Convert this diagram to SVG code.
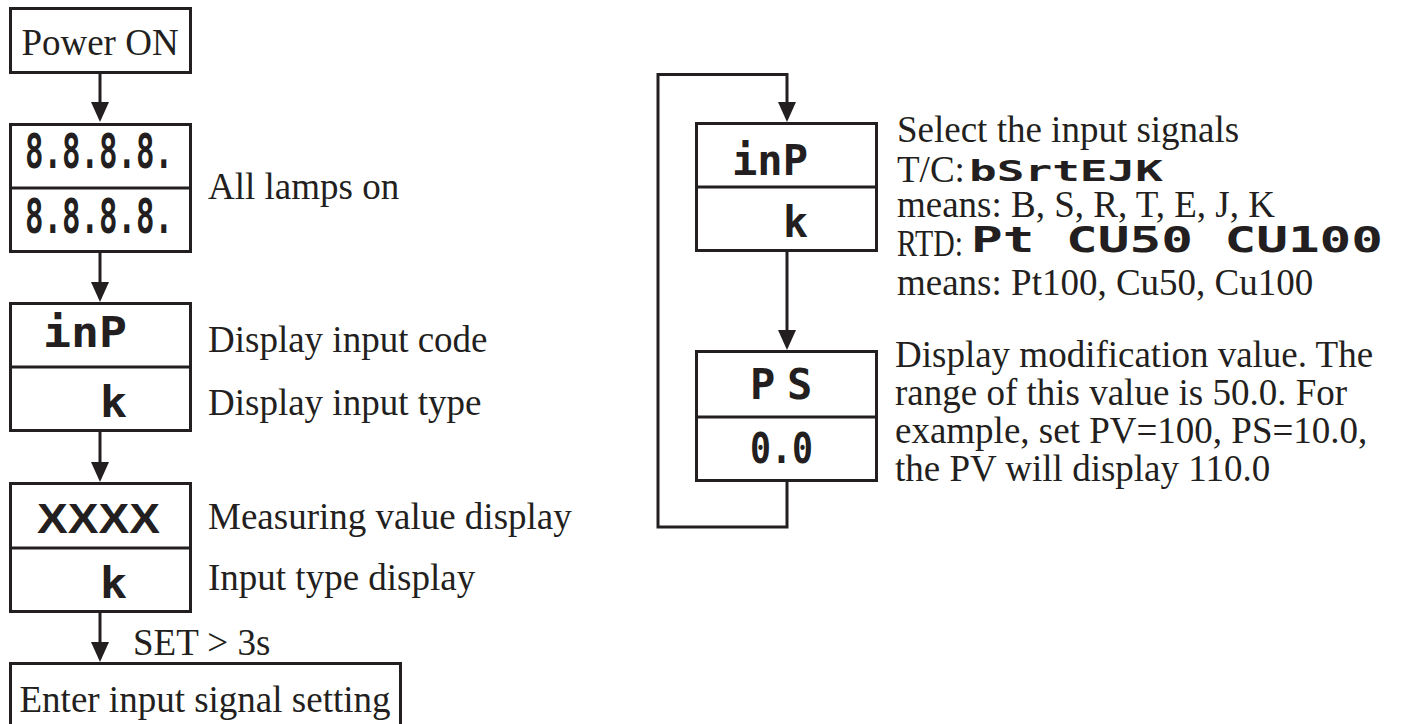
<svg xmlns="http://www.w3.org/2000/svg" width="1411" height="724" viewBox="0 0 1411 724">
<style>
.box{fill:none;stroke:#231f20;stroke-width:3}
.ln{fill:none;stroke:#231f20;stroke-width:3}
.t{font-family:"Liberation Serif","Times New Roman",serif;font-size:37px;fill:#231f20}
.seg{font-family:"DejaVu Sans Mono",monospace;font-weight:bold;fill:#231f20}
.xx{font-family:"Liberation Sans",Arial,sans-serif;font-weight:bold;font-size:43px;fill:#231f20}
</style>
<defs>
<marker id="ah" viewBox="0 0 20 18" refX="12" refY="9" markerWidth="20" markerHeight="18" markerUnits="userSpaceOnUse" orient="auto">
<path d="M0,0 L20,9 L0,18 Z" fill="#231f20"/>
</marker>
</defs>
<rect width="1411" height="724" fill="#ffffff"/>

<g id="connectors">
<line class="ln" x1="100" y1="73" x2="100" y2="114" marker-end="url(#ah)"/>
<line class="ln" x1="100" y1="252" x2="100" y2="294" marker-end="url(#ah)"/>
<line class="ln" x1="100" y1="431" x2="100" y2="474" marker-end="url(#ah)"/>
<line class="ln" x1="100" y1="612" x2="100" y2="654" marker-end="url(#ah)"/>
<text class="t" x="133" y="655">SET &gt; 3s</text>
<line class="ln" x1="787" y1="251" x2="787" y2="342" marker-end="url(#ah)"/>
<polyline class="ln" points="787,481 787,527 658,527 658,74.5 787,74.5 787,114" marker-end="url(#ah)"/>
</g>

<g id="power-on">
<rect class="box" x="10.5" y="8.5" width="180" height="64"/>
<text class="t" x="100" y="55" text-anchor="middle">Power ON</text>
</g>

<g id="all-lamps">
<rect class="box" x="10.5" y="124.5" width="180" height="127"/>
<line class="ln" x1="10.5" y1="188" x2="190.5" y2="188"/>
<text class="seg" x="25" y="168" font-size="48" textLength="148" lengthAdjust="spacingAndGlyphs">8.8.8.8.</text>
<text class="seg" x="25" y="233" font-size="48" textLength="148" lengthAdjust="spacingAndGlyphs">8.8.8.8.</text>
<text class="t" x="208" y="199">All lamps on</text>
</g>

<g id="input-code">
<rect class="box" x="10.5" y="303.5" width="180" height="127"/>
<line class="ln" x1="10.5" y1="367" x2="190.5" y2="367"/>
<text class="seg" x="43" y="347" font-size="42" textLength="84" lengthAdjust="spacingAndGlyphs">inP</text>
<text class="seg" x="100" y="417" font-size="42" textLength="27" lengthAdjust="spacingAndGlyphs">k</text>
<text class="t" x="208" y="352">Display input code</text>
<text class="t" x="208" y="415">Display input type</text>
</g>

<g id="measuring">
<rect class="box" x="10.5" y="483.5" width="180" height="128"/>
<line class="ln" x1="10.5" y1="548" x2="190.5" y2="548"/>
<text class="xx" x="37" y="533" textLength="123" lengthAdjust="spacingAndGlyphs">XXXX</text>
<text class="seg" x="100" y="598" font-size="42" textLength="27" lengthAdjust="spacingAndGlyphs">k</text>
<text class="t" x="208" y="529">Measuring value display</text>
<text class="t" x="208" y="590">Input type display</text>
</g>

<g id="enter-setting">
<rect class="box" x="10.5" y="663.5" width="390" height="80"/>
<text class="t" x="205" y="712" text-anchor="middle">Enter input signal setting</text>
</g>

<g id="select-input">
<rect class="box" x="696.5" y="123.5" width="180" height="127"/>
<line class="ln" x1="696.5" y1="187" x2="876.5" y2="187"/>
<text class="seg" x="732" y="175" font-size="42" textLength="76" lengthAdjust="spacingAndGlyphs">inP</text>
<text class="seg" x="783" y="237" font-size="42" textLength="25" lengthAdjust="spacingAndGlyphs">k</text>
<text class="t" x="897" y="142">Select the input signals</text>
<text class="t" x="897" y="182">T/C:</text>
<text class="seg" x="969" y="181" font-size="29" textLength="194" lengthAdjust="spacingAndGlyphs">bSrtEJK</text>
<text class="t" x="897" y="217">means: B, S, R, T, E, J, K</text>
<text class="t" x="897" y="256" textLength="66" lengthAdjust="spacingAndGlyphs">RTD:</text>
<text class="seg" x="971" y="252" font-size="36" textLength="412" lengthAdjust="spacingAndGlyphs">Pt CU50 CU100</text>
<text class="t" x="897" y="295">means: Pt100, Cu50, Cu100</text>
</g>

<g id="ps-modification">
<rect class="box" x="696.5" y="351.5" width="180" height="129"/>
<line class="ln" x1="696.5" y1="417" x2="876.5" y2="417"/>
<text class="seg" x="750 787" y="399" font-size="42">PS</text>
<text class="seg" x="750" y="463" font-size="42" textLength="63" lengthAdjust="spacingAndGlyphs">0.0</text>
<text class="t" x="895" y="367">Display modification value. The</text>
<text class="t" x="895" y="405">range of this value is 50.0. For</text>
<text class="t" x="895" y="443">example, set PV=100, PS=10.0,</text>
<text class="t" x="895" y="481">the PV will display 110.0</text>
</g>
</svg>
